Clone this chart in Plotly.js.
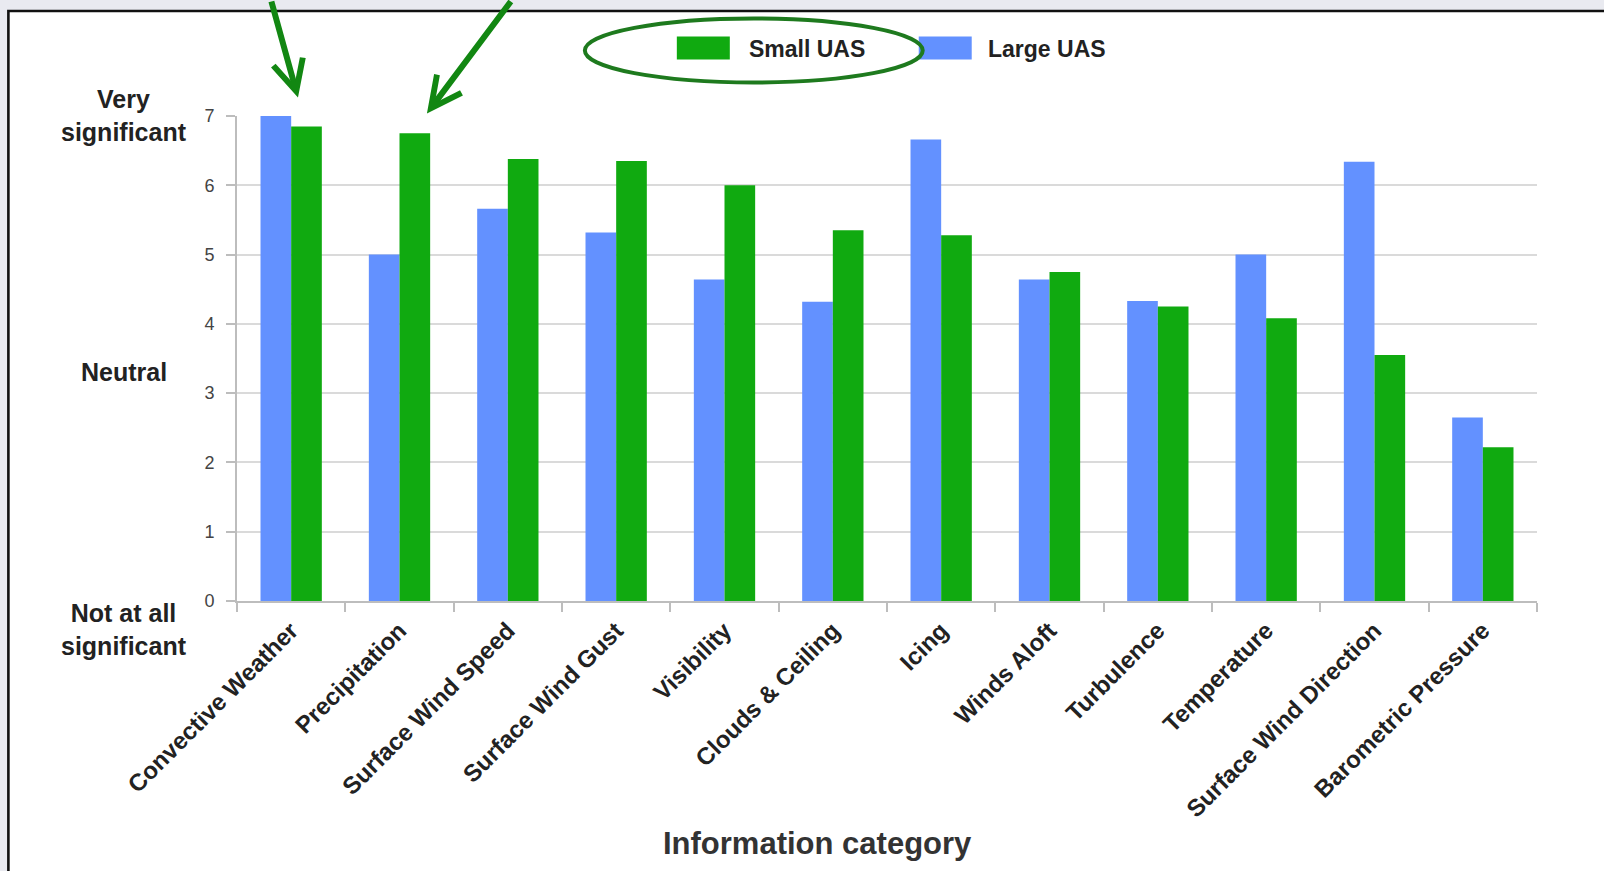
<!DOCTYPE html>
<html><head><meta charset="utf-8">
<script src="https://cdn.plot.ly/plotly-3.0.1.min.js"></script>
<style>html,body{margin:0;padding:0;background:#fff;overflow:hidden}#chart{width:1604px;height:871px}</style>
</head><body><div id="chart"></div>
<script>
const categories = ["Convective Weather","Precipitation","Surface Wind Speed","Surface Wind Gust","Visibility","Clouds & Ceiling","Icing","Winds Aloft","Turbulence","Temperature","Surface Wind Direction","Barometric Pressure"];
const largeUAS = [7.0, 5.0, 5.66, 5.32, 4.64, 4.32, 6.66, 4.64, 4.33, 5.0, 6.34, 2.65];
const smallUAS = [6.85, 6.75, 6.38, 6.35, 6.0, 5.35, 5.28, 4.75, 4.25, 4.08, 3.55, 2.22];
const yTickValues = [0, 1, 2, 3, 4, 5, 6, 7];
const seriesNames = ["Small UAS", "Large UAS"];
const scaleLabels = ["Very<br>significant", "Neutral", "Not at all<br>significant"];
const xTitle = "Information category";

const F = "Liberation Sans, Arial, Helvetica, sans-serif";
const BLUE = "#6391ff", GREEN = "#10aa10", ARROW = "#128712";
const W = 1604, H = 871, L = 237, R = 66.5, T = 115.5, B = 270.3;
const pw = W - L - R, ph = H - T - B;
const px = x => (x - L) / pw;
const py = y => (H - B - y) / ph;

const traces = [
  {type: "bar", name: seriesNames[1], x: categories, y: largeUAS, marker: {color: BLUE}, hoverinfo: "x+y+name"},
  {type: "bar", name: seriesNames[0], x: categories, y: smallUAS, marker: {color: GREEN}, hoverinfo: "x+y+name"}
];

const shapes = [
  // panel
  {type: "rect", xref: "paper", yref: "paper", layer: "below",
   x0: px(8.3), x1: px(1700), y0: py(10.5), y1: py(1000),
   fillcolor: "#ffffff", line: {color: "#111111", width: 2.6}},
  // legend swatches
  {type: "rect", xref: "paper", yref: "paper", x0: px(677), x1: px(730), y0: py(36), y1: py(59),
   fillcolor: GREEN, line: {width: 0}},
  {type: "rect", xref: "paper", yref: "paper", x0: px(919), x1: px(972), y0: py(36), y1: py(59),
   fillcolor: BLUE, line: {width: 0}},
  // ellipse around Small UAS
  {type: "circle", xref: "paper", yref: "paper", x0: px(585), x1: px(923), y0: py(18), y1: py(82),
   line: {color: "#1e7a1e", width: 4}}
];

const annotations = [
  {xref: "paper", yref: "paper", x: px(124), y: py(115), text: scaleLabels[0], showarrow: false,
   xanchor: "center", yanchor: "middle", font: {family: F, size: 25, color: "#222", weight: "bold"}},
  {xref: "paper", yref: "paper", x: px(124), y: py(371.5), text: scaleLabels[1], showarrow: false,
   xanchor: "center", yanchor: "middle", font: {family: F, size: 25, color: "#222", weight: "bold"}},
  {xref: "paper", yref: "paper", x: px(124), y: py(629), text: scaleLabels[2], showarrow: false,
   xanchor: "center", yanchor: "middle", font: {family: F, size: 25, color: "#222", weight: "bold"}},
  {xref: "paper", yref: "paper", x: px(817.5), y: py(843), text: xTitle, showarrow: false,
   xanchor: "center", yanchor: "middle", font: {family: F, size: 31, color: "#333", weight: "bold"}},
  {xref: "paper", yref: "paper", x: px(747), y: py(48), text: seriesNames[0], showarrow: false,
   xanchor: "left", yanchor: "middle", font: {family: F, size: 23, color: "#222", weight: "bold"}},
  {xref: "paper", yref: "paper", x: px(986), y: py(48), text: seriesNames[1], showarrow: false,
   xanchor: "left", yanchor: "middle", font: {family: F, size: 23, color: "#222", weight: "bold"}},
  // arrows
  {xref: "paper", yref: "paper", x: px(298), y: py(97), ax: -27, ay: -108, text: "", showarrow: true,
   arrowhead: 5, arrowsize: 1.0, arrowwidth: 6, arrowcolor: ARROW, standoff: 0},
  {xref: "paper", yref: "paper", x: px(427), y: py(113), ax: 85, ay: -120, text: "", showarrow: true,
   arrowhead: 5, arrowsize: 1.0, arrowwidth: 6, arrowcolor: ARROW, standoff: 0}
];

const layout = {
  width: W, height: H,
  margin: {l: L, r: R, t: T, b: B, pad: 0},
  paper_bgcolor: "#e9eaf0",
  plot_bgcolor: "rgba(0,0,0,0)",
  showlegend: false,
  barmode: "group", bargap: 0.434, bargroupgap: 0,
  font: {family: F, color: "#222"},
  xaxis: {
    type: "category", range: [-0.5, 11.5], tickson: "boundaries",
    ticks: "outside", ticklen: 9, tickwidth: 2, tickcolor: "#bdbdbd",
    showline: true, linecolor: "#bdbdbd", linewidth: 2, showgrid: false,
    tickangle: -45, automargin: false, ticklabelstandoff: 4,
    tickfont: {family: F, size: 24, color: "#222", weight: "bold"}
  },
  yaxis: {
    range: [0, 7], tickvals: yTickValues, ticks: "outside", ticklen: 9, tickwidth: 2, tickcolor: "#bdbdbd",
    showline: true, linecolor: "#bdbdbd", linewidth: 2,
    showgrid: true, gridcolor: "#dadada", gridwidth: 2, zeroline: false, automargin: false,
    ticklabelstandoff: 8,
    tickfont: {family: F, size: 18, color: "#444"}
  },
  shapes: shapes,
  annotations: annotations
};

Plotly.newPlot("chart", traces, layout, {displayModeBar: false, staticPlot: true});
</script></body></html>
